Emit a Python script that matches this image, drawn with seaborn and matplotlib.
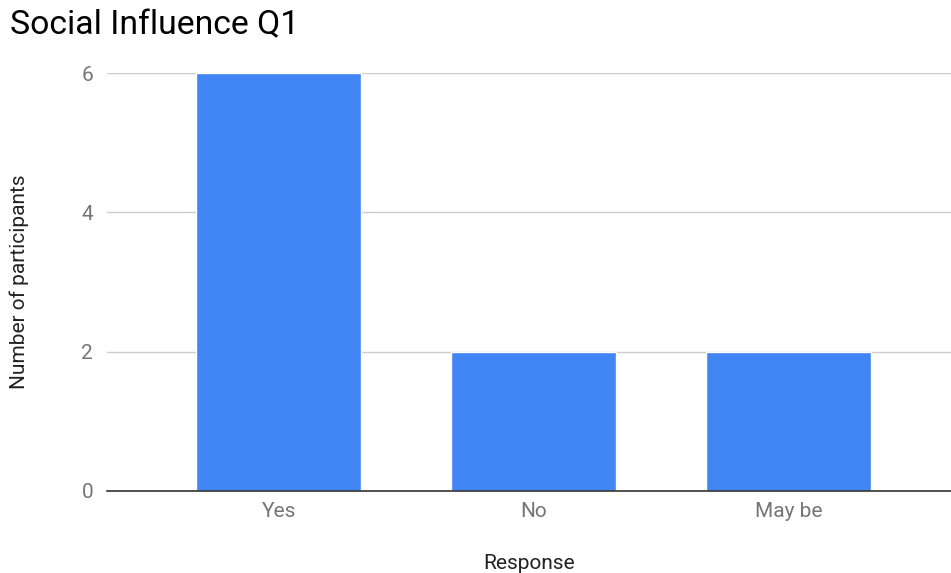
import matplotlib
matplotlib.use("Agg")
import matplotlib.pyplot as plt
import seaborn as sns
import pandas as pd

categories = ["Yes", "No", "May be"]
values = [6, 2, 2]
yticks = [0, 2, 4, 6]

sns.set_style("white")
plt.rcParams["font.family"] = ["Roboto", "DejaVu Sans"]

df = pd.DataFrame({"Response": categories, "Number of participants": values})

fig = plt.figure(figsize=(9.51, 5.73), dpi=100)
ax = fig.add_axes([107/951, 1 - 491/573, 1 - 107/951, (491 - 73)/573])

sns.barplot(data=df, x="Response", y="Number of participants", color="#4285F4",
            width=0.647, saturation=1, ax=ax, zorder=3)

ax.set_xlim(-0.673, 2.637)
ax.set_ylim(0, 6)
ax.set_yticks(yticks)
ax.set_yticklabels([str(t) for t in yticks])
ax.yaxis.grid(True, color="#cccccc", linewidth=1, zorder=0)
ax.set_axisbelow(True)
for s in ["top", "right", "left"]:
    ax.spines[s].set_visible(False)
ax.spines["bottom"].set_color("#333333")
ax.spines["bottom"].set_linewidth(1.2)
ax.spines["bottom"].set_zorder(4)
ax.tick_params(axis="both", length=0, labelsize=15, labelcolor="#757575")
ax.tick_params(axis="y", pad=10)
ax.tick_params(axis="x", pad=8)

ax.set_xlabel("Response", fontsize=15, color="#222222", labelpad=24)
ax.set_ylabel("Number of participants", fontsize=15, color="#222222", labelpad=38)

fig.text(10/951, 1 - 25/573, "Social Influence Q1", fontsize=24.3, color="#000000",
         ha="left", va="center")

fig.savefig("out.png", dpi=100)
